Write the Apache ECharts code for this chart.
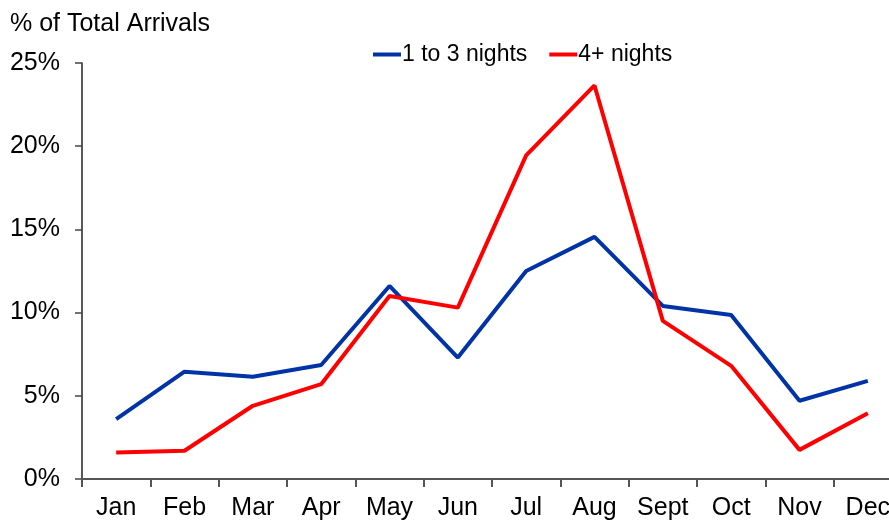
<!DOCTYPE html>
<html>
<head>
<meta charset="utf-8">
<script src="https://cdn.jsdelivr.net/npm/echarts@6/dist/echarts.min.js"></script>
<style>
  html, body { margin: 0; padding: 0; background: #fff; }
  #chart { width: 889px; height: 522px; }
</style>
</head>
<body>
<div id="chart"></div>
<script>
// Monthly share of total arrivals by length of stay
const months = ['Jan', 'Feb', 'Mar', 'Apr', 'May', 'Jun', 'Jul', 'Aug', 'Sept', 'Oct', 'Nov', 'Dec'];
const shortStay = [3.6, 6.45, 6.15, 6.85, 11.6, 7.3, 12.5, 14.55, 10.4, 9.85, 4.7, 5.9];
const longStay = [1.6, 1.7, 4.4, 5.7, 11.0, 10.3, 19.45, 23.65, 9.5, 6.8, 1.75, 3.95];
const seriesNames = ['1 to 3 nights', '4+ nights'];
const yTicks = [0, 5, 10, 15, 20, 25];

const font = 'Liberation Sans, Arial, sans-serif';
const chart = echarts.init(document.getElementById('chart'), null, { renderer: 'canvas' });

chart.setOption({
  animation: false,
  backgroundColor: '#ffffff',
  title: {
    text: '% of Total Arrivals',
    left: 5, top: 7,
    textStyle: { fontFamily: font, fontSize: 25, fontWeight: 'normal', color: '#000' }
  },
  legend: {
    data: seriesNames,
    left: 368, top: 38,
    itemWidth: 28, itemHeight: 4, itemGap: 22,
    icon: 'rect',
    textStyle: { fontFamily: font, fontSize: 23, color: '#000', padding: [0, 0, 0, -4] }
  },
  grid: { left: 82, top: 63, width: 820, height: 416, containLabel: false, outerBoundsMode: 'none' },
  xAxis: {
    type: 'category',
    data: months,
    boundaryGap: true,
    axisLine: { lineStyle: { color: '#555', width: 2 } },
    axisTick: { show: true, length: 8, lineStyle: { color: '#555', width: 2 } },
    axisLabel: { fontFamily: font, fontSize: 25, color: '#000', margin: 17, interval: 0 },
    splitLine: { show: false }
  },
  yAxis: {
    type: 'value',
    min: yTicks[0], max: yTicks[yTicks.length - 1], interval: 5,
    axisLine: { show: true, lineStyle: { color: '#222', width: 1.5 } },
    axisTick: { show: true, length: 7, lineStyle: { color: '#444', width: 1.5 } },
    axisLabel: { fontFamily: font, fontSize: 25, color: '#000', margin: 22, formatter: '{value}%' },
    splitLine: { show: false }
  },
  series: [
    {
      name: seriesNames[0], type: 'line', data: shortStay,
      symbol: 'none', smooth: false,
      lineStyle: { color: '#0033A6', width: 4 },
      itemStyle: { color: '#0033A6' }
    },
    {
      name: seriesNames[1], type: 'line', data: longStay,
      symbol: 'none', smooth: false,
      lineStyle: { color: '#FF0000', width: 4 },
      itemStyle: { color: '#FF0000' }
    }
  ]
});
</script>
</body>
</html>
